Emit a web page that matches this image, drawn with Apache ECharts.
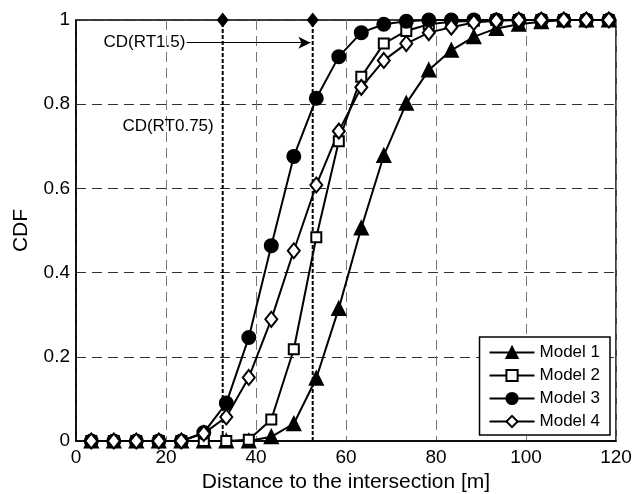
<!DOCTYPE html>
<html lang="en">
<head>
    <meta charset="UTF-8">
    <title>CDF</title>
    <script src="https://cdn.jsdelivr.net/npm/echarts@6/dist/echarts.min.js"></script>
</head>
<style>
html,body{margin:0;padding:0;background-color:#fff}
#chartBox{width:636px;height:494px}
</style>
<body>
    <div id="chartBox"></div>
</body>
<script>
// distance of each sample [m]
var distances = [3.4, 8.4, 13.4, 18.4, 23.4, 28.4, 33.4, 38.4, 43.4, 48.4, 53.4, 58.4,
                 63.4, 68.4, 73.4, 78.4, 83.4, 88.4, 93.4, 98.4, 103.4, 108.4, 113.4, 118.4];
var model1 = [0, 0, 0, 0, 0, 0, 0, 0, 0.01, 0.041, 0.149, 0.315,
              0.506, 0.678, 0.802, 0.881, 0.928, 0.96, 0.98, 0.99, 0.996, 1, 1, 1];
var model2 = [0, 0, 0, 0, 0, 0, 0, 0.003, 0.051, 0.218, 0.484, 0.712,
              0.865, 0.944, 0.974, 0.99, 0.996, 0.998, 1, 1, 1, 1, 1, 1];
var model3 = [0, 0, 0, 0, 0, 0.02, 0.09, 0.246, 0.464, 0.676, 0.814, 0.913,
              0.97, 0.99, 0.997, 1, 1, 1, 1, 1, 1, 1, 1, 1];
var model4 = [0, 0, 0, 0, 0, 0.018, 0.057, 0.151, 0.289, 0.452, 0.608, 0.736,
              0.84, 0.904, 0.944, 0.97, 0.983, 0.994, 0.998, 1, 1, 1, 1, 1];
// critical distance lines
var cdNames = ['CD(RT0.75)', 'CD(RT1.5)'];
var cdX = [32.6, 52.6];
// text anchors (right end of the text) and arrow
var cdTextX = [30.6, 24.3];
var cdTextY = [0.747, 0.946];
var arrowFrom = [24.6, 0.946];
var arrowTo = [52.1, 0.946];

var FONT = '"Liberation Sans", Arial, Helvetica, sans-serif';

function pairs(ys){
    return distances.map(function(x, i){ return [x, ys[i]]; });
}

function modelSeries(name, ys, symbol, size, filled){
    return {
        type: 'line',
        name: name,
        data: pairs(ys),
        symbol: symbol,
        symbolSize: size,
        showAllSymbol: true,
        lineStyle: {color: '#000', width: 2},
        itemStyle: {color: filled ? '#000' : '#fff', borderColor: '#000', borderWidth: 2},
        emphasis: {disabled: true},
        z: 5
    };
}

function cdSeries(i){
    return {
        type: 'line',
        name: cdNames[i],
        data: [
            {value: [cdX[i], 0], symbol: 'none'},
            {value: [cdX[i], 1], symbol: 'diamond', symbolSize: [12, 15]}
        ],
        lineStyle: {color: '#000', width: 2, type: [4, 2]},
        itemStyle: {color: '#000'},
        emphasis: {disabled: true},
        z: 3
    };
}

var option = {
    animation: false,
    textStyle: {fontFamily: FONT},
    grid: {
        left: 76, right: 20, top: 20, bottom: 53,
        outerBoundsMode: 'none',
        containLabel: false,
        show: true, borderColor: '#000', borderWidth: 1.5
    },
    xAxis: {
        type: 'value', min: 0, max: 120, interval: 20,
        name: 'Distance to the intersection [m]',
        nameLocation: 'middle', nameGap: 30,
        nameTextStyle: {fontSize: 21, color: '#000', fontFamily: FONT},
        axisLine: {lineStyle: {color: '#000', width: 1.5}},
        axisTick: {show: false},
        axisLabel: {fontSize: 19, color: '#000', margin: 7, fontFamily: FONT},
        splitLine: {show: true, lineStyle: {color: '#777', width: 1, type: [10, 6]}}
    },
    yAxis: {
        type: 'value', min: 0, max: 1, interval: 0.2,
        name: 'CDF',
        nameLocation: 'middle', nameGap: 44,
        nameTextStyle: {fontSize: 21, color: '#000', fontFamily: FONT},
        axisLine: {lineStyle: {color: '#000', width: 1.5}},
        axisTick: {show: false},
        axisLabel: {fontSize: 19, color: '#000', margin: 6, fontFamily: FONT},
        splitLine: {show: true, lineStyle: {color: '#333', width: 1, type: [10, 6]}}
    },
    legend: {
        orient: 'vertical',
        right: 26, bottom: 59,
        backgroundColor: '#fff',
        borderColor: '#000', borderWidth: 1.5, borderRadius: 0,
        padding: [7, 10, 5, 9],
        itemWidth: 45, itemHeight: 14, itemGap: 6,
        textStyle: {fontSize: 17, color: '#000', fontFamily: FONT, padding: [0, 0, 0, 0]},
        data: ['Model 1', 'Model 2', 'Model 3', 'Model 4']
    },
    series: [
        cdSeries(0),
        cdSeries(1),
        {
            type: 'scatter',
            name: 'labels',
            symbolSize: 0,
            silent: true,
            itemStyle: {opacity: 1, color: '#000'},
            data: cdNames.map(function(n, i){ return {value: [cdTextX[i], cdTextY[i]], name: n}; }),
            label: {
                show: true, position: 'left', distance: 0, opacity: 1,
                formatter: '{b}', fontSize: 17, color: '#000', fontFamily: FONT
            },
            markLine: {
                silent: true,
                symbol: ['none', 'arrow'],
                symbolSize: [9, 12],
                label: {show: false},
                lineStyle: {color: '#000', width: 1.2, type: 'solid', opacity: 1},
                data: [[{coord: arrowFrom}, {coord: arrowTo}]]
            },
            z: 6
        },
        modelSeries('Model 1', model1, 'triangle', 13, true),
        modelSeries('Model 2', model2, 'rect', 10, false),
        modelSeries('Model 3', model3, 'circle', 13, true),
        modelSeries('Model 4', model4, 'diamond', [12, 15], false)
    ]
};

var chartObj = echarts.init(document.getElementById('chartBox'));
chartObj.setOption(option);
</script>
</html>
